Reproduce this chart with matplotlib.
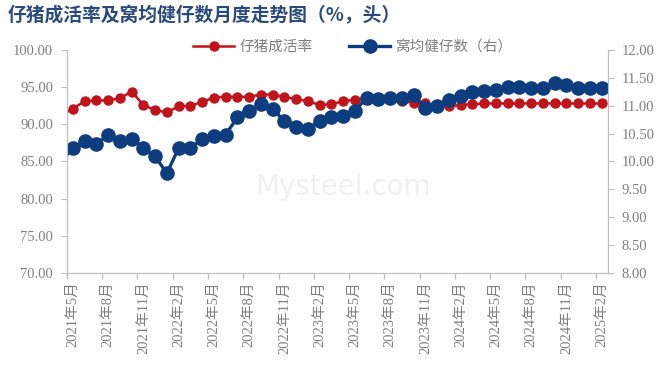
import matplotlib
matplotlib.use("Agg")
import matplotlib.pyplot as plt
import numpy as np

# monthly data, 2021-04 .. 2025-02 (the 2021-04 point only feeds the line entering at the left edge)
survival_rate = [91.2,
                 92.1, 93.1, 93.2, 93.2, 93.5, 94.4, 92.6, 91.9, 91.6, 92.4,
                 92.5, 93.0, 93.6, 93.7, 93.7, 93.7, 94.0, 94.0, 93.7, 93.4,
                 93.1, 92.6, 92.7, 93.1, 93.3, 93.4, 93.4, 93.4, 93.1, 92.9,
                 92.8, 92.5, 92.4, 92.6, 92.7, 92.8, 92.8, 92.8, 92.8, 92.8,
                 92.8, 92.8, 92.8, 92.8, 92.8, 92.8]
piglets_per_litter = [10.00,
                      10.24, 10.36, 10.31, 10.48, 10.36, 10.40, 10.24, 10.09, 9.79, 10.24,
                      10.24, 10.40, 10.46, 10.48, 10.79, 10.91, 11.03, 10.94, 10.73, 10.61,
                      10.58, 10.73, 10.79, 10.81, 10.91, 11.14, 11.12, 11.14, 11.13, 11.20,
                      10.95, 11.00, 11.11, 11.18, 11.25, 11.27, 11.28, 11.34, 11.34, 11.31,
                      11.31, 11.41, 11.37, 11.31, 11.31, 11.31]
tick_labels = ["2021年5月", "2021年8月", "2021年11月", "2022年2月", "2022年5月",
               "2022年8月", "2022年11月", "2023年2月", "2023年5月", "2023年8月",
               "2023年11月", "2024年2月", "2024年5月", "2024年8月", "2024年11月",
               "2025年2月"]

RED = "#C0141C"
BLUE = "#0D3C7F"
GREY = "#7F7F7F"
SPINE = "#BFBFBF"
CJK = ["Liberation Serif", "Noto Sans CJK SC"]

x = np.arange(len(survival_rate)) - 1
n_months = len(survival_rate) - 1

fig = plt.figure(figsize=(6.6, 3.67), dpi=100)
ax = fig.add_axes([0.1015, 0.256, 0.819, 0.608])
ax2 = ax.twinx()

ax.plot(x, survival_rate, color=RED, lw=1.8, marker="o", ms=6.5,
        markevery=list(range(1, len(x))), label="仔猪成活率")
ax2.plot(x, piglets_per_litter, color=BLUE, lw=2.4, marker="o", ms=9.5,
         markevery=list(range(1, len(x))), label="窝均健仔数（右）")

ax.set_xlim(-0.5, n_months - 0.5)
ax.set_ylim(70, 100)
ax2.set_ylim(8, 12)
ax.set_yticks(np.arange(70, 100.1, 5))
ax2.set_yticks(np.arange(8, 12.01, 0.5))
ax.set_yticklabels([f"{v:.2f}" for v in np.arange(70, 100.1, 5)])
ax2.set_yticklabels([f"{v:.2f}" for v in np.arange(8, 12.01, 0.5)])

ax.set_xticks(np.arange(0, n_months, 3))
ax.set_xticklabels(tick_labels, rotation=90, family=CJK, fontsize=10.5, color=GREY)
ax.set_xticks(np.arange(-0.5, n_months, 3), minor=True)
ax.tick_params(axis="x", which="major", length=0, pad=6)
ax.tick_params(axis="x", which="minor", length=4, color=SPINE, width=1)

for a in (ax, ax2):
    a.tick_params(axis="y", length=4, color=SPINE, labelcolor=GREY, labelsize=10.5)
    for lab in a.get_yticklabels():
        lab.set_family("Liberation Serif")
    for s in a.spines.values():
        s.set_color(SPINE)
    a.spines["top"].set_visible(False)
ax.tick_params(axis="y", pad=6)
ax2.tick_params(axis="y", pad=6)

fig.text(0.012, 0.958, "仔猪成活率及窝均健仔数月度走势图（%，头）", fontsize=13.5,
         fontweight="bold", color="#2B4A7C", family=["Noto Sans CJK SC"], va="center")

h1, l1 = ax.get_legend_handles_labels()
h2, l2 = ax2.get_legend_handles_labels()
fig.legend(h1 + h2, l1 + l2, loc="center", bbox_to_anchor=(0.535, 0.872), ncol=2,
           frameon=False, prop={"family": "Noto Sans CJK SC", "size": 10.5},
           labelcolor=GREY, handlelength=2.8, columnspacing=2.5, handletextpad=0.4)

fig.text(0.52, 0.49, "Mysteel.com", fontsize=20, color="#F0F0F0", ha="center", va="center",
         family="DejaVu Sans", zorder=0)

fig.savefig("out.png", dpi=100)
